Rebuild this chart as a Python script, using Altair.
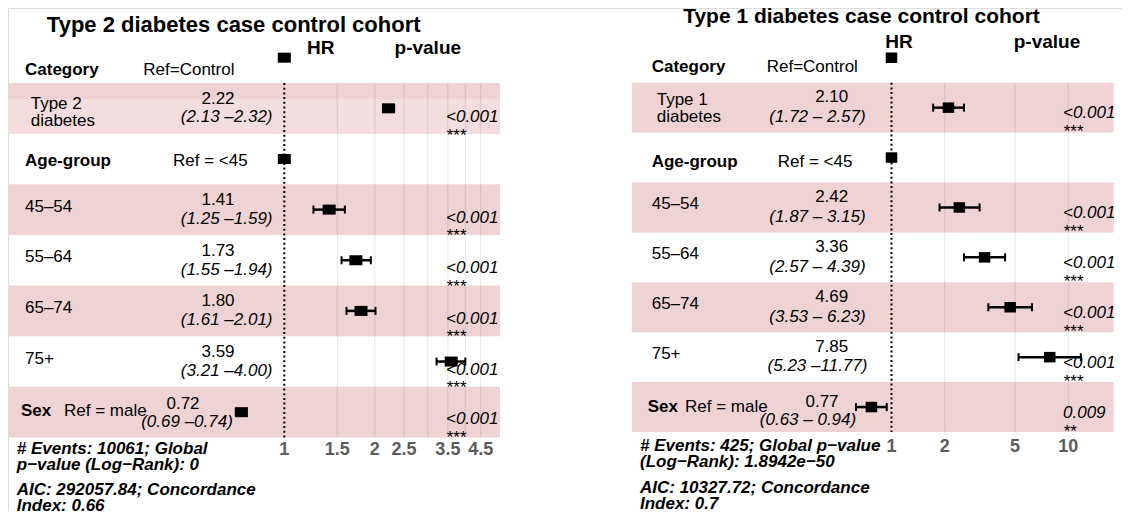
import altair as alt
import pandas as pd

FONT = "Liberation Sans"
PINK = "#EFD3D4"
PINK_LIGHT = "#F3DDDE"

# ---------------- data: Type 2 diabetes cohort (left) ----------------
t2_title = ["Type 2 diabetes case control cohort"]
t2_row = [0, 1, 2, 3, 4, 5, 6, 7]
t2_var = ["Category", "", "Age-group", "", "", "", "", "Sex"]
t2_ref = ["Ref=Control", "", "Ref = <45", "", "", "", "", "Ref = male"]
t2_level = ["", "Type 2\ndiabetes", "", "45–54", "55–64", "65–74", "75+", ""]
t2_hr = [1, 2.22, 1, 1.41, 1.73, 1.80, 3.59, 0.72]
t2_lo = [None, 2.13, None, 1.25, 1.55, 1.61, 3.21, 0.69]
t2_hi = [None, 2.32, None, 1.59, 1.94, 2.01, 4.00, 0.74]
t2_est = ["", "2.22", "", "1.41", "1.73", "1.80", "3.59", "0.72"]
t2_ci = ["", "(2.13 –2.32)", "", "(1.25 –1.59)", "(1.55 –1.94)",
         "(1.61 –2.01)", "(3.21 –4.00)", "(0.69 –0.74)"]
t2_p = ["", "<0.001\n***", "", "<0.001\n***", "<0.001\n***",
        "<0.001\n***", "<0.001\n***", "<0.001\n***"]
t2_ticks = [1, 1.5, 2, 2.5, 3.5, 4.5]
t2_tick_labels = ["1", "1.5", "2", "2.5", "3.5", "4.5"]
t2_grid = [1.5, 2, 2.5, 3, 3.5, 4, 4.5]
t2_notes = ["# Events: 10061; Global\np−value (Log−Rank): 0",
            "AIC: 292057.84; Concordance\nIndex: 0.66"]

# ---------------- data: Type 1 diabetes cohort (right) ----------------
t1_title = ["Type 1 diabetes case control cohort"]
t1_row = [0, 1, 2, 3, 4, 5, 6, 7]
t1_var = ["Category", "", "Age-group", "", "", "", "", "Sex"]
t1_ref = ["Ref=Control", "", "Ref = <45", "", "", "", "", "Ref = male"]
t1_level = ["", "Type 1\ndiabetes", "", "45–54", "55–64", "65–74", "75+", ""]
t1_hr = [1, 2.10, 1, 2.42, 3.36, 4.69, 7.85, 0.77]
t1_lo = [None, 1.72, None, 1.87, 2.57, 3.53, 5.23, 0.63]
t1_hi = [None, 2.57, None, 3.15, 4.39, 6.23, 11.77, 0.94]
t1_est = ["", "2.10", "", "2.42", "3.36", "4.69", "7.85", "0.77"]
t1_ci = ["", "(1.72 – 2.57)", "", "(1.87 – 3.15)", "(2.57 – 4.39)",
         "(3.53 – 6.23)", "(5.23 –11.77)", "(0.63 – 0.94)"]
t1_p = ["", "<0.001\n***", "", "<0.001\n***", "<0.001\n***",
        "<0.001\n***", "<0.001\n***", "0.009\n**"]
t1_ticks = [1, 2, 5, 10]
t1_tick_labels = ["1", "2", "5", "10"]
t1_grid = [2, 5, 10]
t1_notes = ["# Events: 425; Global p−value\n(Log−Rank): 1.8942e−50",
            "AIC: 10327.72; Concordance\nIndex: 0.7"]

col_headers = ["HR", "p-value"]

# ---------------- layout (pixels, styles) ----------------
LEFT = dict(
    xdom=[1, 4.5], xrange=[276.3, 472.7], yrange=[75, 429.5],
    band=[0, 492], split_first=0.32,
    title=(225.7, 23.7, 22), hr=(312.8, 46.3), pv=(419.8, 46.3),
    var_x={0: 17, 2: 17, 7: 13}, ref_x={0: 135.3, 2: 165, 7: 56},
    var_dy={0: 17.3, 2: 7, 7: 4},
    level_first=(22.7, 0.4), level_rest=(17, 2),
    est_first=(210, -4.3), est_rest=(210, -4.5), est_last=(175, -2.8),
    ci_first=(218.7, 14), ci_rest=(218.7, 14.3), ci_last=(179, 15.2),
    p_x=438, p_first=14, p_rest=13, p_last=12.3,
    tick_y=447, notes=(8.7, 446.3, 487.3),
    shape="M-1.3,-1H1.3V1H-1.3Z", size=100,
)
RIGHT = dict(
    xdom=[1, 10], xrange=[883.5, 1060.3], yrange=[74.7, 424],
    band=[623.7, 1105.7], split_first=None,
    title=(853.5, 15.4, 21), hr=(891, 40.3), pv=(1039, 40.3),
    var_x={0: 643.7, 2: 643.7, 7: 639.7}, ref_x={0: 758.7, 2: 769.7, 7: 677},
    var_dy={0: 14, 2: 9.2, 7: 4.7},
    level_first=(648.7, -2.7), level_rest=(643.7, 1.6),
    est_first=(823.7, -5.4), est_rest=(823.7, -5.1), est_last=(814, -0.3),
    ci_first=(809.5, 14.6), ci_rest=(809.5, 14.3), ci_last=(800, 18),
    p_x=1055, p_first=10.6, p_rest=10.9, p_last=11.3,
    tick_y=443.7, notes=(632, 443.3, 484.7),
    shape="M-1.1,-1H1.1V1H-1.1Z", size=110,
)


def panel(title, row, var, ref, level, hr, lo, hi, est, ci, p,
          ticks, tick_labels, grid, notes, L):
    df = pd.DataFrame({"row": row, "var": var, "ref": ref, "level": level,
                       "hr": hr, "lo": lo, "hi": hi, "est": est, "ci": ci, "p": p})
    xs = alt.Scale(type="log", domain=L["xdom"], range=L["xrange"], nice=False)
    ys = alt.Scale(domain=[0.5, 7.5], range=L["yrange"], nice=False, zero=False)
    Y = alt.Y("row:Q", scale=ys, axis=None)
    base = alt.Chart(df)
    layers = []

    # shaded bands on odd rows
    layers.append(
        base.transform_filter("datum.row % 2 == 1")
        .transform_calculate(y0="datum.row - 0.5", y1="datum.row + 0.5")
        .mark_rect(color=PINK)
        .encode(x=alt.value(L["band"][0]), x2=alt.value(L["band"][1]),
                y=alt.Y("y0:Q", scale=ys, axis=None), y2="y1:Q")
    )
    if L["split_first"] is not None:
        layers.append(
            base.transform_filter("datum.row == 1")
            .transform_calculate(y0=f"datum.row - 0.5 + {L['split_first']}",
                                 y1="datum.row + 0.5")
            .mark_rect(color=PINK_LIGHT)
            .encode(x=alt.value(L["band"][0]), x2=alt.value(L["band"][1]),
                    y=alt.Y("y0:Q", scale=ys, axis=None), y2="y1:Q")
        )
    # grid lines
    layers.append(
        alt.Chart(pd.DataFrame({"g": grid}))
        .mark_rule(color="black", opacity=0.1, strokeWidth=1)
        .encode(x=alt.X("g:Q", scale=xs, axis=None),
                y=alt.Y(datum=0.5, type="quantitative", scale=ys, axis=None),
                y2=alt.Y2(datum=7.5))
    )
    # reference line at HR = 1
    layers.append(
        alt.Chart(pd.DataFrame({"v": [1]}))
        .mark_rule(color="black", strokeWidth=2, strokeDash=[2, 2.7])
        .encode(x=alt.X("v:Q", scale=xs, axis=None),
                y=alt.Y(datum=0.5, type="quantitative", scale=ys, axis=None),
                y2=alt.Y2(datum=7.5))
    )
    # confidence intervals
    layers.append(
        base.transform_filter("isValid(datum.lo)")
        .mark_rule(color="black", strokeWidth=2.5)
        .encode(x=alt.X("lo:Q", scale=xs, axis=None), x2="hi:Q", y=Y)
    )
    layers.append(
        base.transform_filter("isValid(datum.lo)")
        .transform_fold(["lo", "hi"], as_=["end", "xv"])
        .mark_point(shape="M0,-1V1", size=64, strokeWidth=2, color="black",
                    filled=False, opacity=1)
        .encode(x=alt.X("xv:Q", scale=xs, axis=None), y=Y)
    )
    # hazard ratio squares
    layers.append(
        base.mark_point(shape=L["shape"], size=L["size"], filled=True,
                        color="black", opacity=1)
        .encode(x=alt.X("hr:Q", scale=xs, axis=None), y=Y)
    )

    def txt(field, rows, x, dy, align="left", weight="normal", style="normal",
            size=17, lh=17):
        return (
            base.transform_filter(alt.FieldOneOfPredicate(field="row", oneOf=rows))
            .mark_text(align=align, baseline="alphabetic", dy=dy, font=FONT,
                       fontSize=size, fontWeight=weight, fontStyle=style,
                       color="black", lineBreak="\n", lineHeight=lh)
            .encode(x=alt.value(x), y=Y, text=f"{field}:N")
        )

    for r in [0, 2, 7]:
        layers.append(txt("var", [r], L["var_x"][r], L["var_dy"][r], weight="bold"))
        layers.append(txt("ref", [r], L["ref_x"][r], L["var_dy"][r]))
    layers.append(txt("level", [1], L["level_first"][0], L["level_first"][1]))
    layers.append(txt("level", [3, 4, 5, 6], L["level_rest"][0], L["level_rest"][1]))
    layers.append(txt("est", [1], L["est_first"][0], L["est_first"][1], align="center"))
    layers.append(txt("est", [3, 4, 5, 6], L["est_rest"][0], L["est_rest"][1], align="center"))
    layers.append(txt("est", [7], L["est_last"][0], L["est_last"][1], align="center"))
    layers.append(txt("ci", [1], L["ci_first"][0], L["ci_first"][1], align="center", style="italic"))
    layers.append(txt("ci", [3, 4, 5, 6], L["ci_rest"][0], L["ci_rest"][1], align="center", style="italic"))
    layers.append(txt("ci", [7], L["ci_last"][0], L["ci_last"][1], align="center", style="italic"))
    layers.append(txt("p", [1], L["p_x"], L["p_first"], style="italic", lh=18.5))
    layers.append(txt("p", [3, 4, 5, 6], L["p_x"], L["p_rest"], style="italic", lh=18.5))
    layers.append(txt("p", [7], L["p_x"], L["p_last"], style="italic", lh=18.5))

    # axis tick labels
    layers.append(
        alt.Chart(pd.DataFrame({"t": ticks, "lab": tick_labels}))
        .mark_text(font=FONT, fontSize=18, fontWeight="bold", color="#5c5c5c",
                   baseline="alphabetic", align="center")
        .encode(x=alt.X("t:Q", scale=xs, axis=None), y=alt.value(L["tick_y"]),
                text="lab:N")
    )
    # title and column headers
    layers.append(
        alt.Chart(pd.DataFrame({"t": title}))
        .mark_text(font=FONT, fontSize=L["title"][2], fontWeight="bold", color="black",
                   baseline="alphabetic", align="center")
        .encode(x=alt.value(L["title"][0]), y=alt.value(L["title"][1]), text="t:N")
    )
    for lab, pos in zip(col_headers, [L["hr"], L["pv"]]):
        layers.append(
            alt.Chart(pd.DataFrame({"t": [lab]}))
            .mark_text(font=FONT, fontSize=19, fontWeight="bold", color="black",
                       baseline="alphabetic", align="center")
            .encode(x=alt.value(pos[0]), y=alt.value(pos[1]), text="t:N")
        )
    # footnotes
    for note, yy in zip(notes, L["notes"][1:]):
        layers.append(
            alt.Chart(pd.DataFrame({"t": [note]}))
            .mark_text(font=FONT, fontSize=17, fontWeight="bold", fontStyle="italic",
                       color="black", baseline="alphabetic", align="left",
                       lineBreak="\n", lineHeight=16)
            .encode(x=alt.value(L["notes"][0]), y=alt.value(yy), text="t:N")
        )
    return alt.layer(*layers)


left = panel(t2_title, t2_row, t2_var, t2_ref, t2_level, t2_hr, t2_lo, t2_hi,
             t2_est, t2_ci, t2_p, t2_ticks, t2_tick_labels, t2_grid, t2_notes, LEFT)
right = panel(t1_title, t1_row, t1_var, t1_ref, t1_level, t1_hr, t1_lo, t1_hi,
              t1_est, t1_ci, t1_p, t1_ticks, t1_tick_labels, t1_grid, t1_notes, RIGHT)

chart = (
    alt.layer(left, right)
    .resolve_scale(x="independent", y="independent")
    .properties(width=1114, height=503, padding=0,
                autosize=alt.AutoSizeParams(type="none"))
    .configure_view(stroke=None)
    .configure(background="white")
)

chart.save("out.html", embed_options={"renderer": "svg", "actions": False})
